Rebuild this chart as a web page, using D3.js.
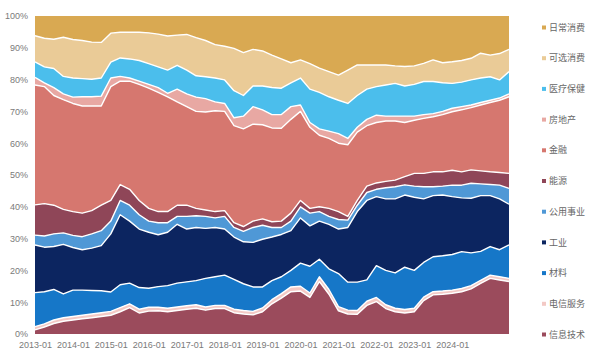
<!DOCTYPE html>
<html><head><meta charset="utf-8">
<script src="https://cdn.jsdelivr.net/npm/d3@7"></script>
<style>
html,body{margin:0;padding:0;background:#fff;}
svg{display:block;}
</style></head>
<body>
<svg id="chart" width="600" height="360"></svg>
<script>
// ---- data: quarterly sector weights (%) ----
const dates = ["2013-01","2013-04","2013-07","2013-10","2014-01","2014-04","2014-07","2014-10",
"2015-01","2015-04","2015-07","2015-10","2016-01","2016-04","2016-07","2016-10",
"2017-01","2017-04","2017-07","2017-10","2018-01","2018-04","2018-07","2018-10",
"2019-01","2019-04","2019-07","2019-10","2020-01","2020-04","2020-07","2020-10",
"2021-01","2021-04","2021-07","2021-10","2022-01","2022-04","2022-07","2022-10",
"2023-01","2023-04","2023-07","2023-10","2024-01","2024-04","2024-07","2024-10",
"2025-01","2025-04","2025-07"];

const seriesNames = ["信息技术","电信服务","材料","工业","公用事业","能源","金融","房地产","医疗保健","可选消费","日常消费"];

const itValues = [1.3,2.2,3.3,4.0,4.4,4.8,5.1,5.5,5.9,7.0,8.3,6.6,7.2,7.3,7.0,7.4,7.8,8.1,7.5,8.0,8.0,6.7,6.3,6.0,7.0,9.5,11.3,13.3,13.5,11.5,16.5,12.5,7.3,6.3,6.2,9.0,10.2,8.0,7.0,6.6,7.0,10.5,12.3,12.5,12.8,13.3,14.2,15.9,17.5,17.0,16.5];
const telecomValues = [1.0,1.0,1.1,1.1,1.1,1.1,1.2,1.2,1.2,1.3,1.2,1.2,1.2,1.1,1.1,1.1,1.1,1.1,1.0,1.0,1.0,1.1,1.1,1.1,1.2,1.3,1.4,1.5,1.5,1.4,1.5,1.5,1.3,1.2,1.2,1.3,1.3,1.2,1.1,1.1,1.1,1.1,1.0,1.0,1.0,1.0,1.0,1.0,1.0,1.0,1.0];
const materialsValues = [10.7,10.1,9.6,7.5,8.3,7.9,7.4,6.9,6.1,7.2,6.5,6.8,6.0,6.5,7.1,7.5,7.5,7.6,9.0,9.0,9.5,9.4,8.4,7.7,6.6,6.0,5.3,5.2,7.3,8.4,5.5,6.5,10.4,8.8,8.9,6.7,10.0,10.8,11.1,13.3,11.9,10.9,11.0,11.1,11.2,11.6,10.3,9.1,9.0,8.5,10.5];
const industrialsValues = [15.0,14.0,13.5,15.6,13.4,12.7,13.3,14.2,18.3,22.0,19.5,18.4,17.6,16.3,16.8,18.5,16.6,16.7,15.7,15.5,14.5,13.3,13.2,14.0,15.0,13.7,13.3,12.5,14.2,12.7,12.0,14.0,14.0,17.2,22.2,25.0,21.7,22.5,23.3,22.7,23.0,20.0,19.2,19.1,18.2,16.9,17.2,17.5,16.0,16.0,12.8];
const utilitiesValues = [3.1,3.5,4.0,3.6,3.8,4.1,4.5,4.7,4.0,4.5,5.0,4.5,3.5,3.8,3.0,2.5,4.0,3.7,3.8,3.0,4.0,3.0,3.3,4.7,4.4,3.0,2.2,3.0,3.5,4.0,3.0,2.5,3.0,2.3,2.0,2.5,2.3,3.5,3.8,3.2,3.5,3.8,2.8,2.8,3.6,4.0,4.7,3.7,3.5,4.3,5.0];
const energyValues = [9.5,10.2,9.0,7.4,7.5,7.4,7.3,8.0,6.5,5.0,5.0,4.5,4.0,3.5,3.5,3.5,3.5,2.3,2.0,2.0,1.8,1.5,1.5,2.0,2.0,1.8,2.0,2.5,2.0,1.5,1.5,2.5,2.5,1.2,1.5,2.0,2.0,2.0,2.1,2.6,4.0,4.2,4.7,4.5,4.7,4.2,4.2,4.1,4.0,4.0,4.7];
const financialsValues = [37.7,36.8,34.5,34.5,34.0,33.7,32.9,31.2,35.8,32.5,34.0,36.5,37.8,37.5,36.1,32.5,31.0,30.5,30.8,31.7,31.2,30.5,30.7,30.5,29.6,29.5,29.2,29.5,28.0,25.5,22.5,22.0,21.5,22.5,21.5,19.0,19.0,19.0,18.6,17.0,16.7,17.3,17.3,18.0,18.4,19.5,19.6,20.7,21.8,22.7,24.1];
const realEstateValues = [2.4,1.2,2.5,1.8,2.0,2.9,2.9,3.1,2.7,1.5,1.0,1.0,1.2,1.5,1.1,4.0,4.0,4.5,4.2,2.8,2.5,2.5,4.0,5.5,4.7,4.2,4.3,4.0,2.0,1.5,2.0,2.3,3.0,2.0,1.5,2.0,2.3,1.5,1.5,2.0,1.3,1.2,1.0,1.0,1.1,1.0,0.8,0.8,0.7,0.7,0.9];
const healthValues = [4.9,5.0,6.0,5.5,6.0,5.7,5.5,5.7,5.0,5.8,6.0,6.5,6.5,6.5,7.3,7.5,7.5,6.7,6.9,7.5,7.4,8.5,6.5,6.5,7.5,8.5,8.3,7.5,8.5,10.5,11.5,10.8,10.5,11.0,10.0,9.5,9.0,9.8,10.3,9.5,10.0,10.4,10.1,9.0,7.8,7.7,7.9,7.7,7.4,5.7,7.0];
const discretionaryValues = [8.2,9.0,9.2,12.3,12.1,12.0,11.7,11.2,9.1,8.1,8.4,8.9,9.7,10.3,10.7,9.5,11.2,12.0,11.4,10.5,10.6,13.3,13.5,11.5,11.0,10.2,9.2,6.3,5.7,8.0,7.6,7.9,7.9,10.5,9.6,7.6,6.8,6.3,5.5,6.1,5.8,5.7,6.8,6.3,6.8,6.8,6.8,7.8,6.8,8.3,7.0];
const staplesValues = [6.2,7.0,7.3,6.7,7.4,7.7,8.2,8.3,5.4,5.1,5.1,5.1,5.3,5.7,6.3,6.0,5.8,6.8,7.7,9.0,9.5,10.2,11.5,10.5,11.0,12.3,13.5,14.7,13.8,15.0,16.4,17.5,18.6,17.0,15.4,15.4,15.4,15.4,15.7,15.9,15.7,14.9,13.8,14.7,14.4,14.0,13.3,11.7,12.3,11.8,10.5];

const xTickLabels = ["2013-01","2014-01","2015-01","2016-01","2017-01","2018-01","2019-01","2020-01","2021-01","2022-01","2023-01","2024-01"];
const yTickValues = [0,0.1,0.2,0.3,0.4,0.5,0.6,0.7,0.8,0.9,1.0];

const seriesColors = ["#9b4b5c","#f3c9c5","#1677c8","#0c2560","#4f98d6","#8f4658","#d6776f","#e8a8a3","#4bbeec","#eacb97","#d9a952"];
// legend is listed top-down (reverse of stack order)
const legendOrder = [10,9,8,7,6,5,4,3,2,1,0];

// ---- build table ----
const parse = d3.timeParse("%Y-%m");
const allValues = [itValues,telecomValues,materialsValues,industrialsValues,utilitiesValues,energyValues,financialsValues,realEstateValues,healthValues,discretionaryValues,staplesValues];
const table = dates.map((d,i)=>{
  const row = {date: parse(d)};
  seriesNames.forEach((n,k)=>{ row[n] = allValues[k][i]; });
  return row;
});

const stack = d3.stack().keys(seriesNames).offset(d3.stackOffsetExpand);
const layers = stack(table);

// ---- layout ----
const svg = d3.select("#chart");
const plotLeft = 35, plotRight = 509, plotTop = 16, plotBottom = 334;
const x = d3.scaleTime().domain([parse("2013-01"), parse("2025-07")]).range([plotLeft, plotRight]);
const y = d3.scaleLinear().domain([0,1]).range([plotBottom, plotTop]);

const area = d3.area().x(d=>x(d.data.date)).y0(d=>y(d[0])).y1(d=>y(d[1])).curve(d3.curveLinear);
const topLine = d3.line().x(d=>x(d.data.date)).y(d=>y(d[1])).curve(d3.curveLinear);

const g = svg.append("g");
g.selectAll("path.layer").data(layers).join("path")
  .attr("class","layer")
  .attr("d", area)
  .attr("fill", (d,i)=>seriesColors[i]);

g.selectAll("path.sep").data(layers.slice(0, layers.length-1)).join("path")
  .attr("class","sep")
  .attr("d", topLine)
  .attr("fill","none")
  .attr("stroke","#ffffff")
  .attr("stroke-width",1.4)
  .attr("stroke-linejoin","round");

// ---- axes ----
const axisFont = "'Liberation Sans Narrow','Liberation Sans',Arial,sans-serif";
const yAxis = d3.axisLeft(y).tickValues(yTickValues).tickFormat(d3.format(".0%")).tickSize(0).tickPadding(7);
const yg = svg.append("g").attr("transform",`translate(${plotLeft},0)`).call(yAxis);
yg.select(".domain").remove();
yg.selectAll("text").attr("fill","#7a7a7a").style("font-family",axisFont).style("font-size","9px");

const xAxis = d3.axisBottom(x).tickValues(xTickLabels.map(parse)).tickFormat(d3.timeFormat("%Y-%m")).tickSize(0).tickPadding(8);
const xg = svg.append("g").attr("transform",`translate(0,${plotBottom})`).call(xAxis);
xg.select(".domain").remove();
xg.selectAll("text").attr("fill","#7a7a7a").style("font-family",axisFont).style("font-size","9px");

// ---- legend ----
const legend = svg.append("g");
legendOrder.forEach((k,j)=>{
  const ly = 27.5 + j*30.7;
  legend.append("rect").attr("x",542).attr("y",ly-2).attr("width",4).attr("height",4).attr("fill",seriesColors[k]);
  legend.append("text").attr("x",549).attr("y",ly).attr("dy","0.35em")
    .attr("fill","#666666")
    .style("font-family","'Noto Sans CJK SC','Noto Sans',sans-serif")
    .style("font-size","9px")
    .text(seriesNames[k]);
});
</script>
</body></html>
